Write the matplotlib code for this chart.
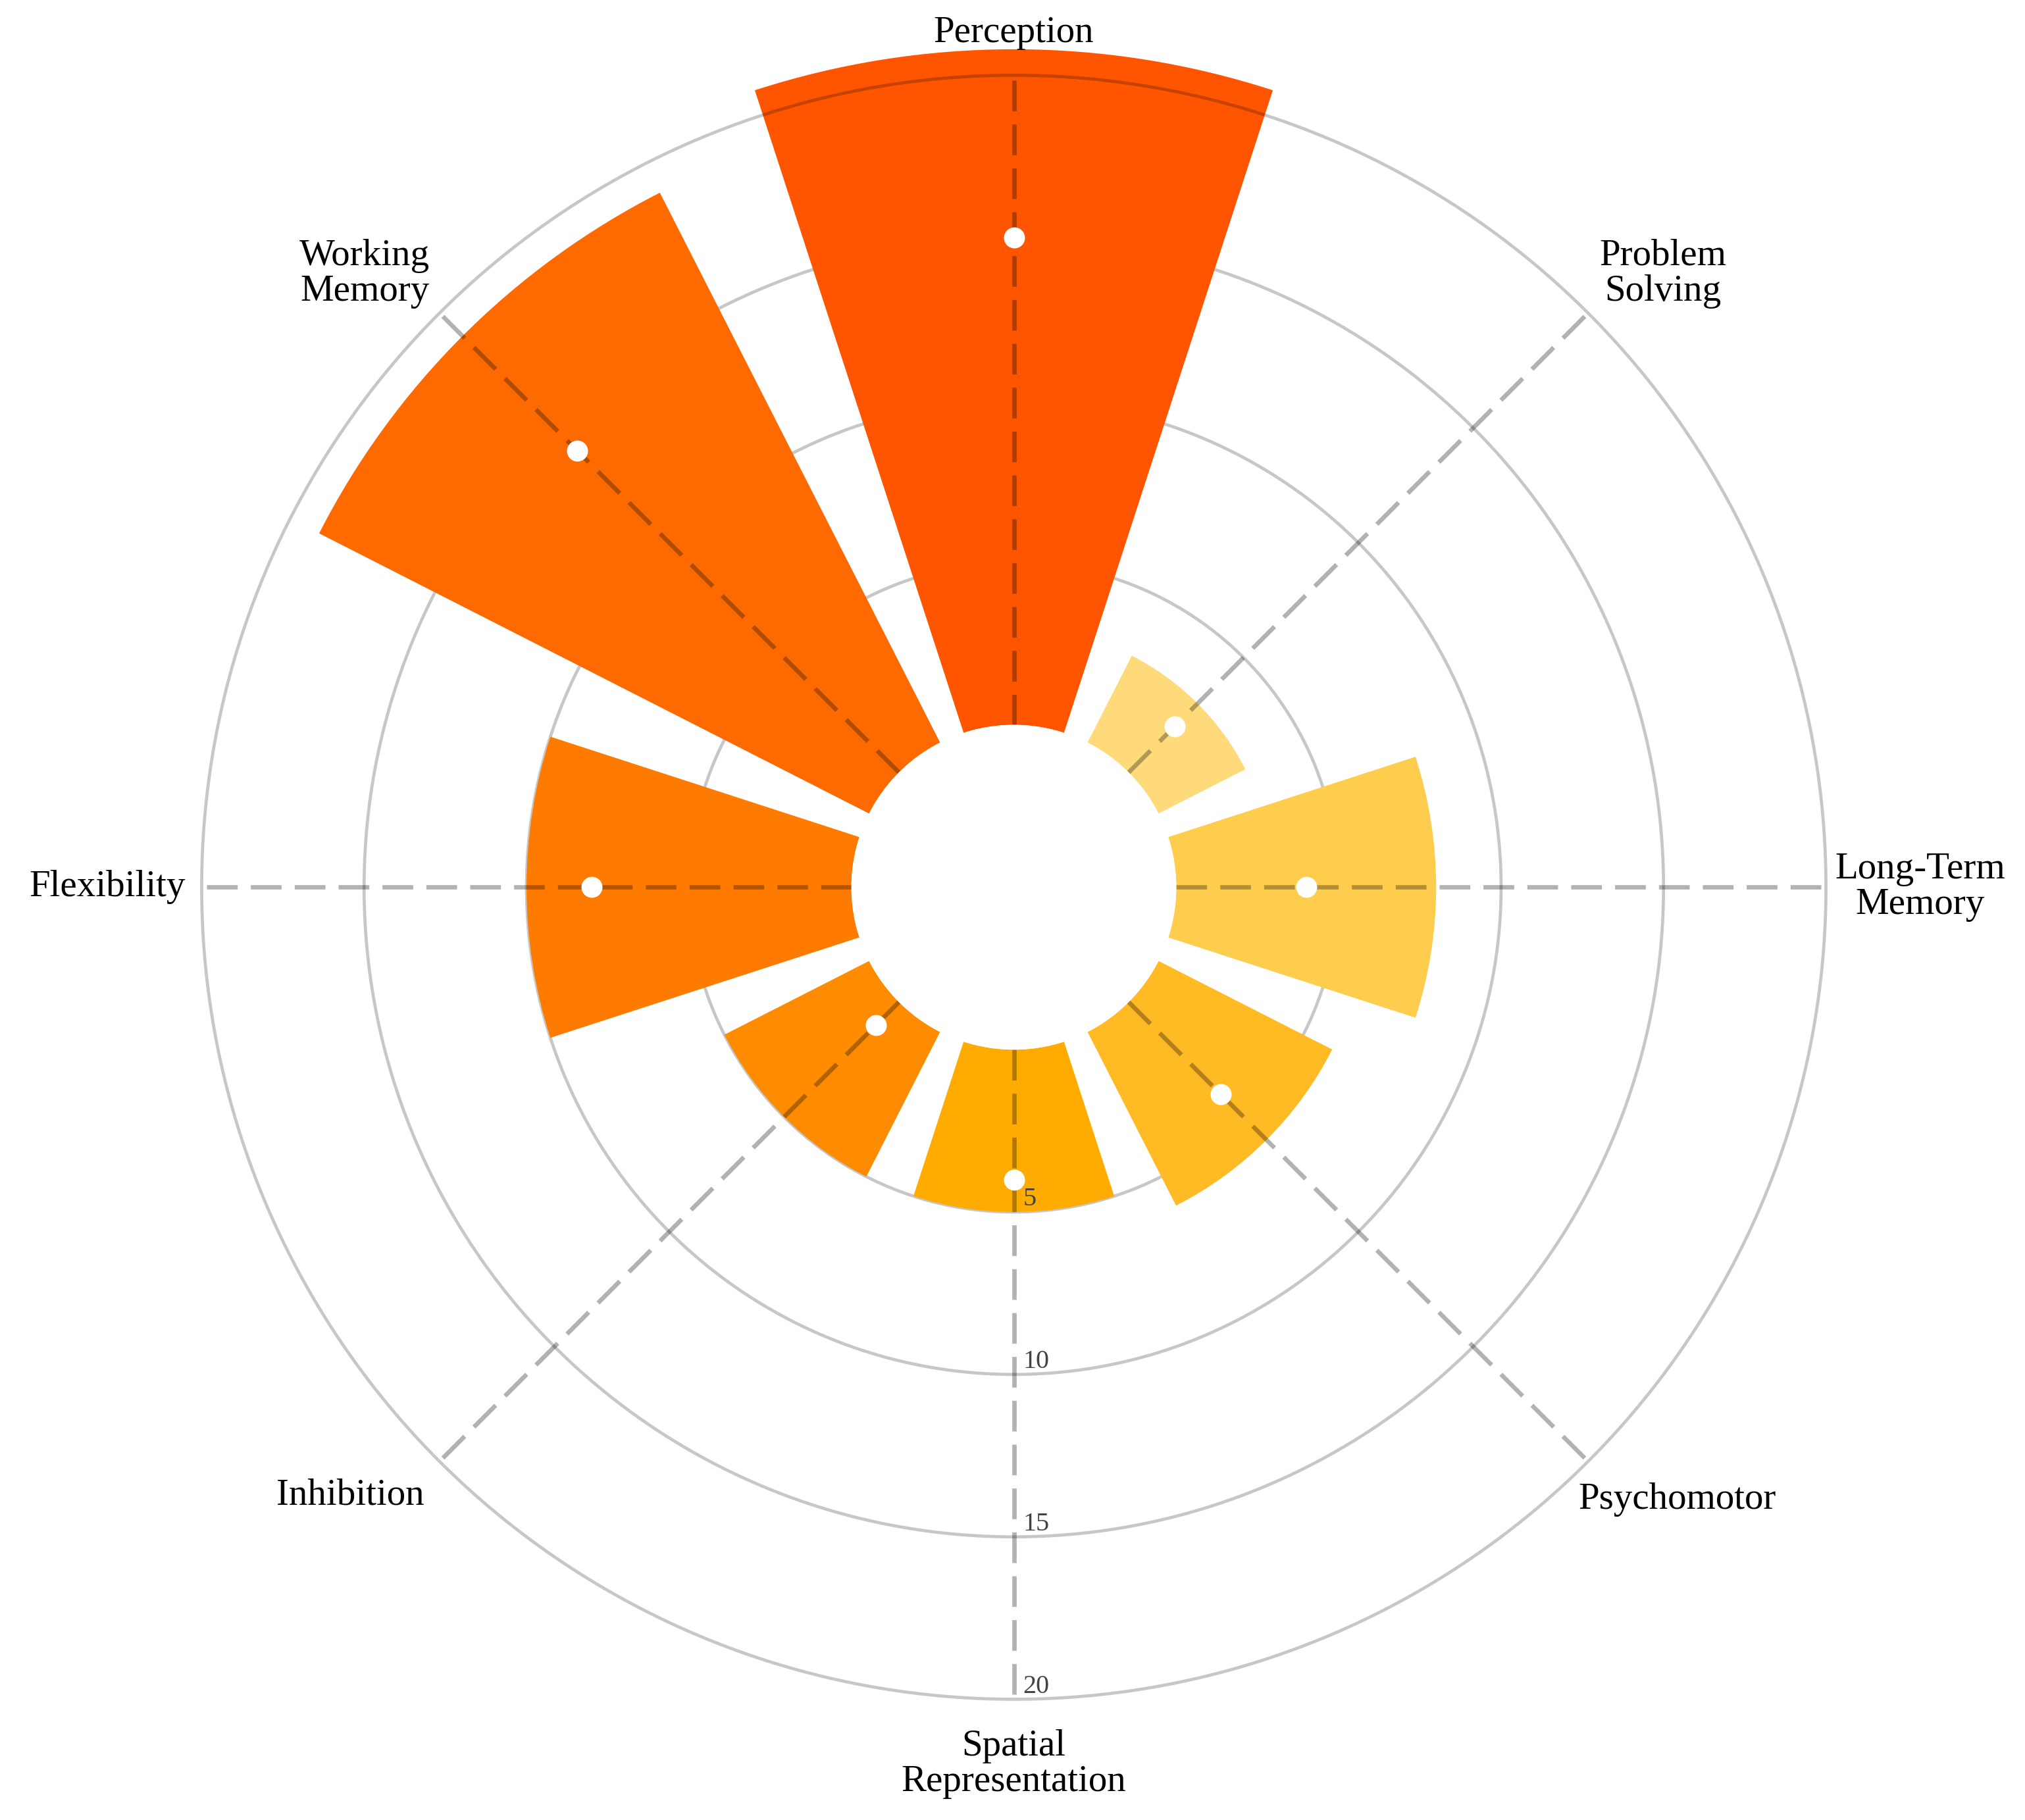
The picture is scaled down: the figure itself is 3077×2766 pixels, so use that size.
import numpy as np
import matplotlib.pyplot as plt

# categories clockwise from the top
categories = ['Perception', 'Problem\nSolving', 'Long-Term\nMemory', 'Psychomotor',
              'Spatial\nRepresentation', 'Inhibition', 'Flexibility', 'Working\nMemory']
bar_values = [20.8, 3, 8, 6, 5, 5, 10, 19]
dot_values = [15, 2, 4, 4, 4, 1, 8, 14]
bar_colors = ['#FF5500', '#FFDA7A', '#FFCD4E', '#FFBA24',
              '#FFAB00', '#FF8C00', '#FF7B00', '#FF6A00']
ring_ticks = [5, 10, 15, 20]

# label placement (angle nudge in degrees, radius in data units)
label_shift = [0, 1.6, 0, -2.3, 0, 2.5, 0, -1.6]
label_r = [21.3, 22.5, 22.9, 22.8, 22.0, 22.7, 22.9, 22.5]

plt.rcParams['font.family'] = ['Liberation Serif', 'DejaVu Serif']

fig = plt.figure(figsize=(15.385, 13.83), dpi=200)
ax = fig.add_axes([0.0835, 0.0485, 0.8343, 0.928], projection='polar')
ax.set_theta_zero_location('N')
ax.set_theta_direction(-1)
ax.set_rorigin(-5)
ax.set_ylim(0, 21)
ax.axis('off')

theta = np.deg2rad(np.arange(len(categories)) * 45)
circle = np.linspace(0, 2 * np.pi, 500)

# rings
for r in ring_ticks:
    ax.plot(circle, np.full_like(circle, r), color='black', alpha=0.22, lw=1.7,
            zorder=1 if r < 20 else 4)

# bars
ax.bar(theta, bar_values, width=np.deg2rad(36), bottom=0, color=bar_colors,
       linewidth=0, zorder=2)

# dashed spokes
for t in theta:
    ax.plot([t, t], [0, 20], color='black', alpha=0.3, lw=2.4, dashes=(7, 3), zorder=3)

# white dots
ax.plot(theta, dot_values, 'o', color='white', ms=11.5, markeredgewidth=0, zorder=5)

# radial tick labels along the bottom spoke
for r in ring_ticks:
    ax.annotate(str(r), xy=(np.pi, r), xytext=(5, 3.5), textcoords='offset points',
                ha='left', va='baseline', fontsize=14.5, color='#444444', zorder=6)

# category labels
for t, lab, s, r in zip(theta, categories, label_shift, label_r):
    ax.text(t + np.deg2rad(s), r, lab, ha='center', va='center', fontsize=20.5,
            linespacing=1.05, color='black')

fig.savefig('out.png', dpi=200, facecolor='white')
